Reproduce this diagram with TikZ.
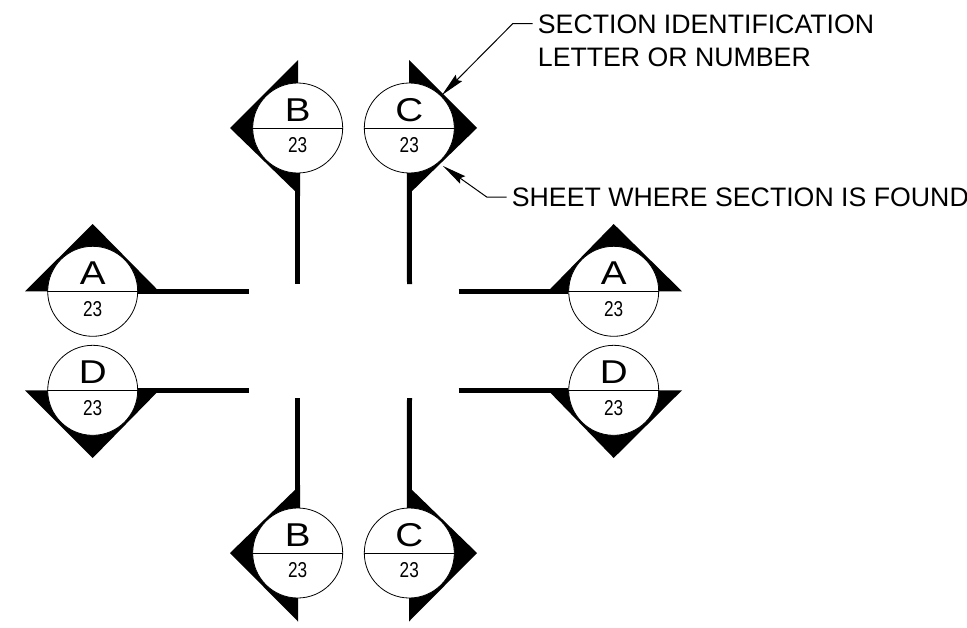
\documentclass[tikz,border=0pt]{standalone}
\usepackage{fontspec}
\setmainfont{Liberation Sans}
\usetikzlibrary{arrows.meta}
\tikzset{
  marker/.style={circle,draw,fill=white,line width=.8pt,minimum size=90pt,inner sep=0pt},
  wedge/.style={fill=black},
  stem/.style={line width=5pt},
  divider/.style={line width=.8pt},
  letter/.style={font=\fontsize{33}{33}\selectfont,inner sep=0pt,xscale=1.17,transform shape},
  sheet/.style={font=\fontsize{21.5}{21.5}\selectfont,inner sep=0pt,xscale=.8,transform shape},
  note/.style={font=\fontsize{26.7}{33}\selectfont,inner xsep=5pt,inner ysep=0pt,align=left},
  leader/.style={line width=1pt,-{Stealth[length=24pt,width=9pt,inset=3pt]}}
}
\begin{document}
\begin{tikzpicture}[x=1pt,y=-1pt]
  \useasboundingbox (0,0) rectangle (967,627);
  % vertical markers
  \fill[wedge] (298,60) -- (230,128) -- (300,196) -- (300,128) -- (298,128) -- cycle;
  \fill[wedge] (409,60) -- (477,128) -- (407,196) -- (407,128) -- (409,128) -- cycle;
  \fill[wedge] (298,621.5) -- (230,553) -- (300,485) -- (300,553) -- (298,553) -- cycle;
  \fill[wedge] (409,621.5) -- (477,553) -- (407,485) -- (407,553) -- (409,553) -- cycle;
  \coordinate (stemB) at (297.7,284);
  \coordinate (stemC) at (409.5,284);
  \coordinate (stemBb) at (297.7,398);
  \coordinate (stemCb) at (409.5,398);
  \node[marker] (markB) at (297.7,128) {};
  \node[marker] (markC) at (409.3,128) {};
  \node[marker] (markBb) at (297.7,553) {};
  \node[marker] (markCb) at (409.3,553) {};
  \draw[stem] (markB.south) -- (stemB);
  \draw[stem] (markC.south) -- (stemC);
  \draw[stem] (stemBb) -- (markBb.north);
  \draw[stem] (stemCb) -- (markCb.north);
  % horizontal markers
  \fill[wedge] (25,291.3) -- (92.7,224) -- (159,291.3) -- cycle;
  \fill[wedge] (25,390.3) -- (92.7,458) -- (159,390.3) -- cycle;
  \fill[wedge] (548,291.3) -- (613.7,224) -- (682,291.3) -- cycle;
  \fill[wedge] (548,390.3) -- (613.7,458) -- (682,390.3) -- cycle;
  \coordinate (stemAl) at (249,291.3);
  \coordinate (stemDl) at (249,390.3);
  \coordinate (stemAr) at (458.5,291.3);
  \coordinate (stemDr) at (458.5,390.3);
  \node[marker] (markAl) at (92.7,291.3) {};
  \node[marker] (markDl) at (92.7,390.3) {};
  \node[marker] (markAr) at (613.7,291.3) {};
  \node[marker] (markDr) at (613.7,390.3) {};
  \draw[stem] (markAl.east) -- (stemAl);
  \draw[stem] (markDl.east) -- (stemDl);
  \draw[stem] (stemAr) -- (markAr.west);
  \draw[stem] (stemDr) -- (markDr.west);
  % dividers and texts
  \foreach \mk/\ltr in {markB/B,markC/C,markBb/B,markCb/C,markAl/A,markDl/D,markAr/A,markDr/D}{
    \draw[divider] (\mk.west) -- (\mk.east);
    \node[letter,anchor=base] (\mk-ltr) at ([yshift=6.5pt]\mk.center) {\ltr};
    \node[sheet,anchor=base] (\mk-num) at ([yshift=-24.7pt]\mk.center) {23};
  }
  % callouts
  \node[note,anchor=north west] (secid) at (532.7,14.5) {SECTION IDENTIFICATION\\LETTER OR NUMBER};
  \node[note,anchor=west] (sheetid) at (506.7,197.5) {SHEET WHERE SECTION IS FOUND};
  \coordinate (secbend) at (512.7,23.7);
  \coordinate (sectip) at (442,95);
  \coordinate (sheetbend) at (486.7,197);
  \coordinate (sheettip) at (443,166);
  \draw[leader] (secid.west |- secbend) -- (secbend) -- (sectip);
  \draw[leader] (sheetid.west |- sheetbend) -- (sheetbend) -- (sheettip);
\end{tikzpicture}
\end{document}
